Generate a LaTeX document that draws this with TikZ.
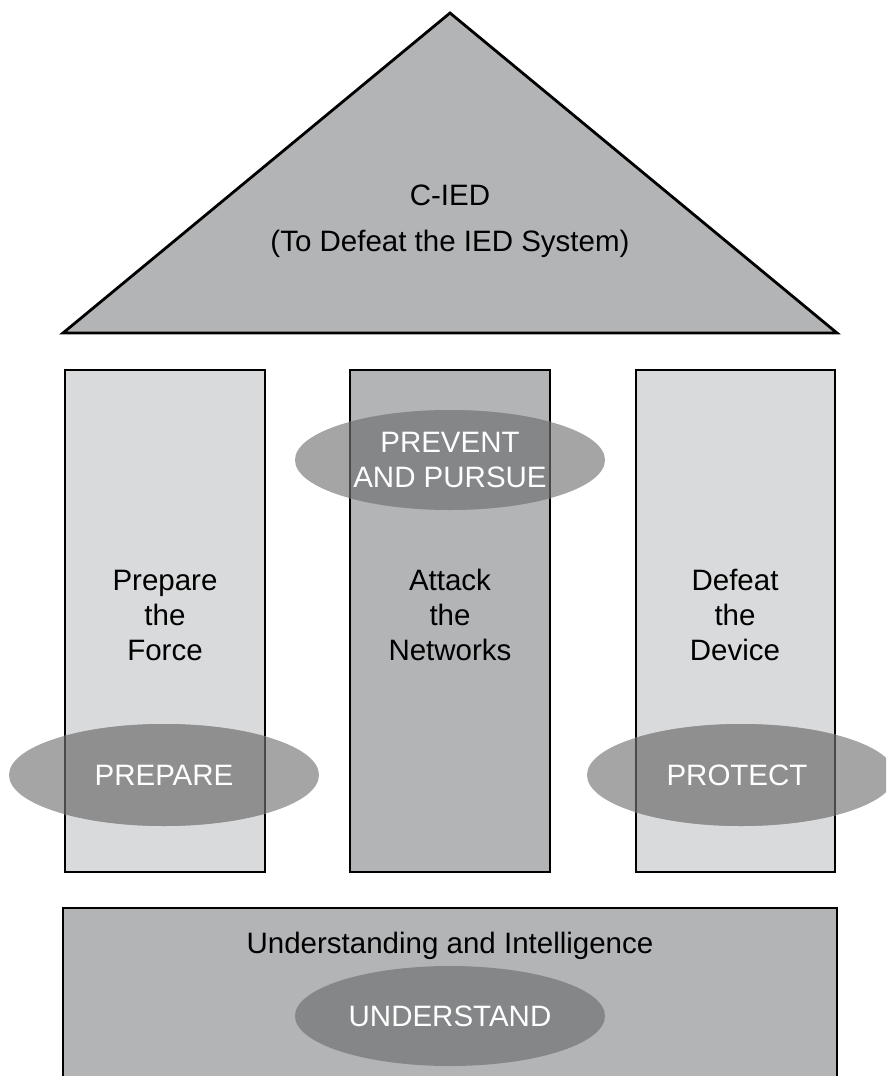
\documentclass[tikz,border=0pt]{standalone}
\usepackage{fontspec}
\setmainfont{Liberation Sans}
\usetikzlibrary{shapes.geometric}
\definecolor{midgray}{HTML}{B3B4B6}
\definecolor{lightgray}{HTML}{D9DADB}
\definecolor{ellout}{HTML}{A5A5A6}
\definecolor{ellonlight}{HTML}{8F8F90}
\definecolor{ellonmid}{HTML}{858688}
\definecolor{bordergray}{HTML}{4A4A4A}
\tikzset{
  outline/.style={draw=black, line width=2.8pt},
  txt/.style={font=\fontsize{29.5}{35}\selectfont, align=center, text=black},
  elltxt/.style={font=\fontsize{29.5}{35}\selectfont, align=center, text=white},
}
\begin{document}
\begin{tikzpicture}[x=1pt,y=-1pt]
\useasboundingbox (0,0) rectangle (886,1076);
\clip (0,0) rectangle (886,1076);
% roof
\coordinate (apex) at (450,13);
\coordinate (bl) at (63,333);
\coordinate (br) at (837,333);
\filldraw[fill=midgray, outline, line join=miter] (bl) -- (apex) -- (br) -- cycle;
\node[txt, font=\fontsize{29.5}{46}\selectfont] (title) at (450,221) {C-IED\\(To Defeat the IED System)};
% pillars
\filldraw[fill=lightgray, outline] (65,370) rectangle (265,872);
\filldraw[fill=midgray, outline] (350,370) rectangle (550,872);
\filldraw[fill=lightgray, outline] (636,370) rectangle (835,872);
% base
\filldraw[fill=midgray, outline] (63,1100) rectangle (837,908);
% ellipses
% PREVENT AND PURSUE
\fill[ellout] (450pt,-460pt) ellipse (155pt and 50pt);
\begin{scope}
  \clip (450pt,-460pt) ellipse (155pt and 50pt);
  \fill[ellonmid] (350,370) rectangle (550,872);
  \draw[bordergray, line width=2.8pt] (350,370) rectangle (550,872);
\end{scope}
% PREPARE
\fill[ellout] (164pt,-775pt) ellipse (155pt and 51pt);
\begin{scope}
  \clip (164pt,-775pt) ellipse (155pt and 51pt);
  \fill[ellonlight] (65,370) rectangle (265,872);
  \draw[bordergray, line width=2.8pt] (65,370) rectangle (265,872);
\end{scope}
% PROTECT
\fill[ellout] (741pt,-775pt) ellipse (154pt and 51pt);
\begin{scope}
  \clip (741pt,-775pt) ellipse (154pt and 51pt);
  \fill[ellonlight] (636,370) rectangle (835,872);
  \draw[bordergray, line width=2.8pt] (636,370) rectangle (835,872);
\end{scope}
% UNDERSTAND
\fill[ellonmid] (450pt,-1016pt) ellipse (155pt and 50pt);
% texts
\node[txt] (prepforce) at (165,615) {Prepare\\the\\Force};
\node[txt] (attack) at (450,615) {Attack\\the\\Networks};
\node[txt] (defeat) at (735,615) {Defeat\\the\\Device};
\node[txt] (understanding) at (450,946) {Understanding and Intelligence};
\node[elltxt] (prevent) at (450,460) {PREVENT\\AND PURSUE};
\node[elltxt] (prepare) at (164,775) {PREPARE};
\node[elltxt] (protect) at (737,775) {PROTECT};
\node[elltxt] (understand) at (450,1016) {UNDERSTAND};
\end{tikzpicture}
\end{document}
